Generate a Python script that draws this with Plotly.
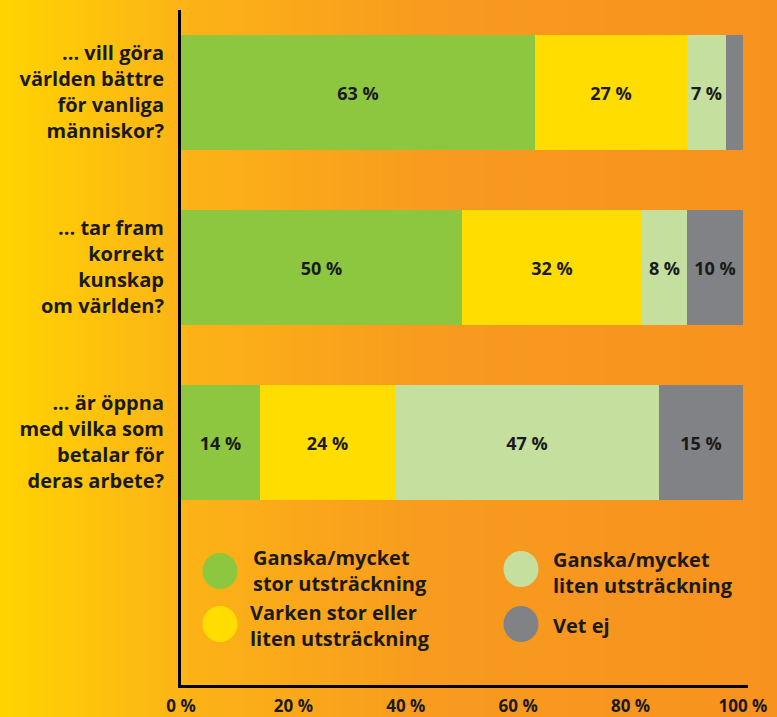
import plotly.graph_objects as go

# ---------------- data ----------------
questions = [
    "... vill göra<br>världen bättre<br>för vanliga<br>människor?",
    "... tar fram<br>korrekt<br>kunskap<br>om världen?",
    "... är öppna<br>med vilka som<br>betalar för<br>deras arbete?",
]
series_names = [
    "Ganska/mycket<br>stor utsträckning",
    "Varken stor eller<br>liten utsträckning",
    "Ganska/mycket<br>liten utsträckning",
    "Vet ej",
]
stor = [63, 50, 14]
varken = [27, 32, 24]
liten = [7, 8, 47]
vet_ej = [3, 10, 15]
tick_vals = [0, 20, 40, 60, 80, 100]
tick_text = ["0 %", "20 %", "40 %", "60 %", "80 %", "100 %"]

series_values = [stor, varken, liten, vet_ej]
colors = ["#8DC63F", "#FFDD00", "#C5DF9E", "#808285"]

FONT = "Open Sans"
TXT = "#1A1A1A"

W, H = 777, 717
L, R, T, B = 181, 29, 10, 32
PW, PH = W - L - R, H - T - B

def px(x):
    return (x - L) / PW

def py(y):
    return (H - B - y) / PH

fig = go.Figure()
for name, vals, col in zip(series_names, series_values, colors):
    fig.add_trace(go.Bar(
        y=list(range(len(questions))), x=vals, orientation="h", name=name,
        marker=dict(color=col, line=dict(width=0)),
        width=0.657,
        text=[f"{v} %" if v >= 5 else "" for v in vals],
        textposition="inside", insidetextanchor="middle",
        constraintext="none", textangle=0,
        textfont=dict(family=FONT, size=18, color=TXT, weight=700),
        hoverinfo="skip", showlegend=False,
    ))

# background gradient strips
stops = [(0.0, (255, 212, 0)), (0.23, (252, 180, 22)), (0.55, (248, 155, 31)), (1.0, (247, 146, 30))]

def grad(t):
    for (a, ca), (b, cb) in zip(stops[:-1], stops[1:]):
        if a <= t <= b:
            f = (t - a) / (b - a)
            return "rgb(%d,%d,%d)" % tuple(round(ca[i] + (cb[i] - ca[i]) * f) for i in range(3))
    return "rgb(247,146,30)"

shapes = []
N = 130
for i in range(N):
    x0 = W * i / N
    x1 = W * (i + 1) / N + 1
    shapes.append(dict(type="rect", xref="paper", yref="paper", layer="below",
                       x0=px(x0), x1=px(x1), y0=py(H + 2), y1=py(-2),
                       fillcolor=grad((i + 0.5) / N), line=dict(width=0)))

# legend (circles + text)
leg_pos = [(220, 571, 251, 570), (220, 624, 248, 625), (521, 569, 551, 572), (521, 624, 551, 625)]
annotations = []
for (cx, cy, tx, ty), name, col in zip(leg_pos, series_names, colors):
    shapes.append(dict(type="circle", xref="paper", yref="paper", layer="above",
                       x0=px(cx - 17.5), x1=px(cx + 17.5), y0=py(cy + 18), y1=py(cy - 18),
                       fillcolor=col, line=dict(width=0)))
    annotations.append(dict(xref="paper", yref="paper", x=px(tx), y=py(ty),
                            text=name, showarrow=False, xanchor="left", yanchor="middle",
                            align="left", font=dict(family=FONT, size=20, color=TXT, weight=700)))

fig.update_layout(
    barmode="stack", width=W, height=H,
    margin=dict(l=L, r=R, t=T, b=B, autoexpand=False),
    paper_bgcolor="#F7931E", plot_bgcolor="rgba(0,0,0,0)",
    shapes=shapes, annotations=annotations, bargap=0,
    xaxis=dict(range=[0, 100.9], tickvals=tick_vals, ticktext=tick_text,
               showgrid=False, zeroline=False, showline=True, linecolor="black",
               linewidth=3, ticks="", ticklabelstandoff=4,
               tickfont=dict(family=FONT, size=17, color=TXT, weight=700)),
    yaxis=dict(range=[3.388, -0.469], tickvals=list(range(len(questions))), ticktext=questions,
               showgrid=False, zeroline=False, showline=True, linecolor="black",
               linewidth=3, ticks="", ticklabelstandoff=10,
               tickfont=dict(family=FONT, size=20, color=TXT, weight=700)),
)

fig.write_html("out.html", config={"displayModeBar": False},
               post_script="document.body.style.margin='0';document.body.style.overflow='hidden';")
